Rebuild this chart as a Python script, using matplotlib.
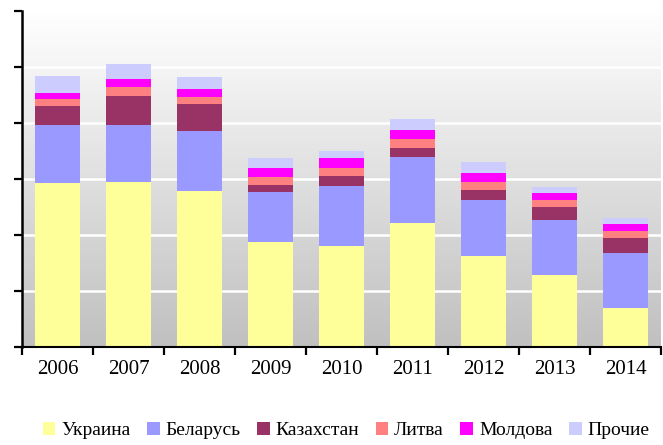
import matplotlib
matplotlib.use('Agg')
import matplotlib.pyplot as plt
from matplotlib.colors import LinearSegmentedColormap
import numpy as np

plt.rcParams['font.family'] = ['Liberation Serif', 'DejaVu Serif']

years = ['2006', '2007', '2008', '2009', '2010', '2011', '2012', '2013', '2014']
series_names = ['Украина', 'Беларусь', 'Казахстан', 'Литва', 'Молдова', 'Прочие']
ukraina = [29.3, 29.5, 27.9, 18.75, 18.0, 22.1, 16.25, 12.9, 7.0]
belarus = [10.3, 10.1, 10.7, 8.95, 10.75, 11.8, 10.0, 9.8, 9.8]
kazakhstan = [3.4, 5.2, 4.8, 1.2, 1.75, 1.6, 1.75, 2.3, 2.7]
litva = [1.3, 1.6, 1.2, 1.5, 1.5, 1.6, 1.5, 1.25, 1.2]
moldova = [1.1, 1.5, 1.5, 1.6, 1.75, 1.65, 1.6, 1.25, 1.3]
prochie = [3.0, 2.6, 2.1, 1.75, 1.25, 1.95, 1.9, 1.1, 1.0]
colors = ['#FFFF99', '#9999FF', '#993366', '#FF8080', '#FF00FF', '#CCCCFF']

fig = plt.figure(figsize=(6.63, 4.45), dpi=100)
ax = fig.add_axes([0.0332, 0.2202, 0.9638, 0.7551])

x = np.arange(len(years))
ax.set_xlim(-0.5, len(years) - 0.5)
ax.set_ylim(0, 60)

# gradient background
cmap = LinearSegmentedColormap.from_list('bg', ['#C0C0C0', '#FFFFFF'])
grad = np.linspace(0, 1, 256).reshape(-1, 1)
ax.imshow(grad, cmap=cmap, aspect='auto', origin='lower',
          extent=(-0.5, len(years) - 0.5, 0, 60), zorder=0)

for yv in range(10, 60, 10):
    ax.axhline(yv, color='white', linewidth=1.8, zorder=1)

bottom = np.zeros(len(years))
for name, vals, c in zip(series_names,
                         [ukraina, belarus, kazakhstan, litva, moldova, prochie],
                         colors):
    ax.bar(x, vals, bottom=bottom, width=0.63, color=c, label=name,
           linewidth=0, zorder=2)
    bottom += np.array(vals)

ax.set_yticks(range(0, 70, 10))
ax.set_yticklabels([])
ax.set_xticks(np.arange(-0.5, len(years), 1.0))
ax.set_xticklabels([])
ax.set_xticks(x, minor=True)
ax.set_xticklabels(years, minor=True, fontsize=15)
ax.tick_params(axis='x', which='minor', length=0, pad=9)
ax.tick_params(axis='both', which='major', direction='out', length=6, width=1.6)
for side in ['top', 'right']:
    ax.spines[side].set_visible(False)
ax.spines['left'].set_linewidth(1.8)
ax.spines['bottom'].set_linewidth(1.5)

fig.legend(loc='center', bbox_to_anchor=(0.522, 0.033), ncol=6, frameon=False,
           fontsize=14, handlelength=0.65, handleheight=0.65, handletextpad=0.3,
           columnspacing=0.85)

plt.savefig('out.png', dpi=100)
plt.close()
